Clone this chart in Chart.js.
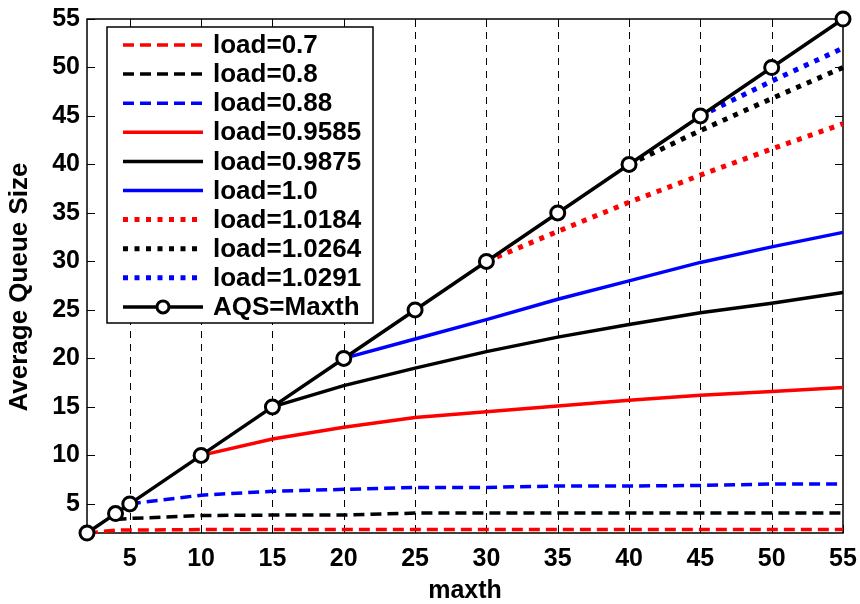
<!DOCTYPE html>
<html>
<head>
<meta charset="utf-8">
<script src="https://cdn.jsdelivr.net/npm/chart.js@4.4.1/dist/chart.umd.min.js"></script>
<style>
  html, body { margin: 0; padding: 0; background: #fff; }
  #wrap { width: 860px; height: 604px; }
</style>
</head>
<body>
<div id="wrap"><canvas id="aqs-chart" width="860" height="604"></canvas></div>
<script>
// maxth settings that were simulated
const maxth = [2, 4, 5, 10, 15, 20, 25, 30, 35, 40, 45, 50, 55];

const xTicks = [5, 10, 15, 20, 25, 30, 35, 40, 45, 50, 55];
const yTicks = [5, 10, 15, 20, 25, 30, 35, 40, 45, 50, 55];

// average queue size per load (null = not run for that maxth)
const load07    = [2, 2.3, 2.3, 2.35, 2.35, 2.35, 2.35, 2.35, 2.35, 2.35, 2.35, 2.35, 2.35];
const load08    = [null, 3.4, 3.5, 3.8, 3.85, 3.85, 4.05, 4.05, 4.05, 4.05, 4.05, 4.05, 4.05];
const load088   = [null, null, 5, 5.9, 6.3, 6.5, 6.7, 6.7, 6.85, 6.85, 6.9, 7.05, 7.05];
const load09585 = [null, null, null, 10, 11.7, 12.9, 13.9, 14.5, 15.1, 15.7, 16.2, 16.6, 17.0];
const load09875 = [null, null, null, null, 15, 17.2, 19.0, 20.7, 22.2, 23.5, 24.7, 25.7, 26.8];
const load10    = [null, null, null, null, null, 20, 22.0, 24.0, 26.1, 28.0, 29.9, 31.5, 33.0];
const load10184 = [null, null, null, null, null, null, null, 30, 33.1, 36.1, 38.9, 41.6, 44.2];
const load10264 = [null, null, null, null, null, null, null, null, null, 40, 43.5, 46.8, 50.0];
const load10291 = [null, null, null, null, null, null, null, null, null, null, 45, 48.6, 52.0];
const aqsMaxth  = [2, 4, 5, 10, 15, 20, 25, 30, 35, 40, 45, 50, 55];

const RED = '#ff0000', BLUE = '#0000ff', BLACK = '#000000';
const DASH = [11, 6], DOT = [5, 6.5];
const FONT = '"Liberation Sans", Arial, Helvetica, sans-serif';

function pts(series) {
  return maxth.map((x, i) => ({ x: x, y: series[i] }));
}

function line(label, series, color, dash, width) {
  return {
    label: label,
    data: pts(series),
    borderColor: color,
    borderWidth: width,
    borderDash: dash,
    borderCapStyle: 'butt',
    pointRadius: 0,
    pointHoverRadius: 0,
    tension: 0,
    clip: false
  };
}

const datasets = [
  line('load=0.7', load07, RED, DASH, 3.5),
  line('load=0.8', load08, BLACK, DASH, 3.5),
  line('load=0.88', load088, BLUE, DASH, 3.5),
  line('load=0.9585', load09585, RED, [], 3.5),
  line('load=0.9875', load09875, BLACK, [], 3.5),
  line('load=1.0', load10, BLUE, [], 3.5),
  line('load=1.0184', load10184, RED, DOT, 5),
  line('load=1.0264', load10264, BLACK, DOT, 5),
  line('load=1.0291', load10291, BLUE, DOT, 5),
  {
    label: 'AQS=Maxth',
    data: pts(aqsMaxth),
    borderColor: BLACK,
    borderWidth: 3.5,
    pointRadius: 7,
    pointBorderWidth: 3,
    pointBorderColor: BLACK,
    pointBackgroundColor: '#fff',
    tension: 0,
    clip: false,
    order: -1
  }
];

// dashed vertical grid, box frame and inward tick marks
const framePlugin = {
  id: 'frame',
  beforeDatasetsDraw(chart) {
    const { ctx, chartArea: a, scales: { x, y } } = chart;
    ctx.save();
    ctx.strokeStyle = BLACK;
    ctx.lineWidth = 1;
    ctx.setLineDash([7, 6]);
    xTicks.slice(0, -1).forEach(v => {
      const px = Math.round(x.getPixelForValue(v)) + 0.5;
      ctx.beginPath();
      ctx.moveTo(px, a.bottom);
      ctx.lineTo(px, a.top);
      ctx.stroke();
    });
    ctx.setLineDash([]);
    ctx.lineWidth = 1;
    xTicks.forEach(v => {
      const px = Math.round(x.getPixelForValue(v)) + 0.5;
      ctx.beginPath();
      ctx.moveTo(px, a.bottom); ctx.lineTo(px, a.bottom - 8);
      ctx.moveTo(px, a.top); ctx.lineTo(px, a.top + 8);
      ctx.stroke();
    });
    yTicks.forEach(v => {
      const py = Math.round(y.getPixelForValue(v)) + 0.5;
      ctx.beginPath();
      ctx.moveTo(a.left, py); ctx.lineTo(a.left + 8, py);
      ctx.moveTo(a.right, py); ctx.lineTo(a.right - 8, py);
      ctx.stroke();
    });
    ctx.lineWidth = 1.5;
    ctx.strokeRect(a.left, a.top, a.right - a.left, a.bottom - a.top);

    // y axis title
    ctx.translate(20, 287);
    ctx.rotate(-Math.PI / 2);
    ctx.font = 'bold 26px ' + FONT;
    ctx.fillStyle = BLACK;
    ctx.textAlign = 'center';
    ctx.textBaseline = 'middle';
    ctx.fillText('Average Queue Size', 0, 0);
    ctx.restore();
  }
};

// boxed legend in the upper left corner of the plot
const legendPlugin = {
  id: 'boxLegend',
  afterDatasetsDraw(chart) {
    const ctx = chart.ctx;
    const box = { left: 107, top: 27, right: 373, bottom: 323 };
    ctx.save();
    ctx.fillStyle = '#fff';
    ctx.fillRect(box.left, box.top, box.right - box.left, box.bottom - box.top);
    ctx.strokeStyle = BLACK;
    ctx.lineWidth = 1.5;
    ctx.strokeRect(box.left, box.top, box.right - box.left, box.bottom - box.top);
    ctx.font = 'bold 26px ' + FONT;
    ctx.textBaseline = 'middle';
    ctx.textAlign = 'left';
    chart.data.datasets.forEach((ds, i) => {
      const ry = 45 + i * 29.1;
      ctx.strokeStyle = ds.borderColor;
      ctx.lineWidth = ds.borderWidth;
      ctx.lineCap = 'butt';
      ctx.setLineDash(ds.borderDash || []);
      ctx.beginPath();
      ctx.moveTo(123, ry);
      ctx.lineTo(203, ry);
      ctx.stroke();
      ctx.setLineDash([]);
      if (ds.pointRadius) {
        ctx.beginPath();
        ctx.arc(163, ry, 6, 0, Math.PI * 2);
        ctx.fillStyle = '#fff';
        ctx.fill();
        ctx.lineWidth = ds.pointBorderWidth;
        ctx.stroke();
      }
      ctx.fillStyle = BLACK;
      ctx.fillText(ds.label, 213, ry + 1);
    });
    ctx.restore();
  }
};

new Chart(document.getElementById('aqs-chart').getContext('2d'), {
  type: 'line',
  data: { datasets: datasets },
  options: {
    responsive: false,
    animation: false,
    devicePixelRatio: 1,
    layout: { padding: { top: 19, right: 17, left: 0, bottom: 0 } },
    plugins: { legend: { display: false }, tooltip: { enabled: false } },
    scales: {
      x: {
        type: 'linear',
        min: 2,
        max: 55,
        afterBuildTicks: s => { s.ticks = xTicks.map(v => ({ value: v })); },
        afterFit: s => { s.height = 71; s.paddingLeft = 0; s.paddingRight = 0; },
        grid: { display: false, drawTicks: false },
        border: { display: false },
        ticks: {
          color: BLACK,
          padding: 11,
          maxRotation: 0,
          autoSkip: false,
          font: { family: FONT, size: 25, weight: 'bold' }
        },
        title: {
          display: true,
          text: 'maxth',
          color: BLACK,
          padding: { top: 0, bottom: 0 },
          font: { family: FONT, size: 25, weight: 'bold', lineHeight: 1 }
        }
      },
      y: {
        type: 'linear',
        min: 2,
        max: 55,
        afterBuildTicks: s => { s.ticks = yTicks.map(v => ({ value: v })); },
        afterFit: s => { s.width = 87; s.paddingTop = 0; s.paddingBottom = 0; },
        grid: { display: false, drawTicks: false },
        border: { display: false },
        ticks: {
          color: BLACK,
          padding: 7,
          autoSkip: false,
          font: { family: FONT, size: 25, weight: 'bold' }
        }
      }
    }
  },
  plugins: [framePlugin, legendPlugin]
});
</script>
</body>
</html>
